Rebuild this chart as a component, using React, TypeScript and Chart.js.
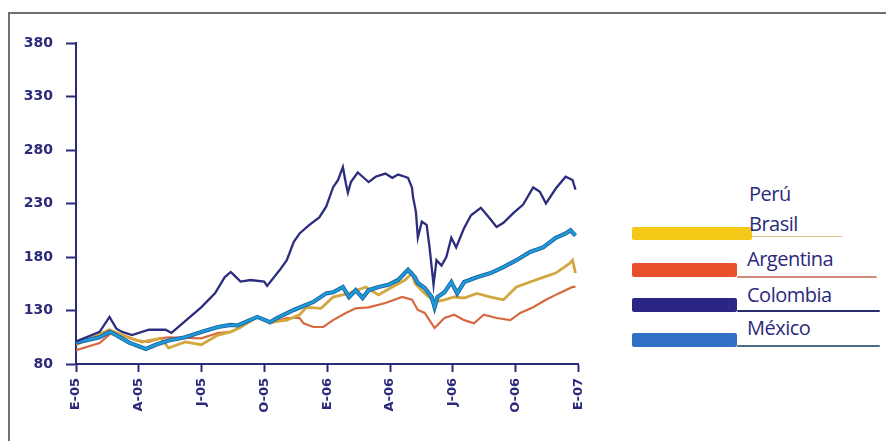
import React, { useEffect, useRef } from "react";
import { Chart, registerables } from "chart.js";

Chart.register(...registerables);

const quarterLabels = ["E-05", "A-05", "J-05", "O-05", "E-06", "A-06", "J-06", "O-06", "E-07"];
const yMin = 80;
const yMax = 380;
const yStep = 50;

// x values are months since January 2005
const colombiaMonths = [0, 1.13, 1.6, 1.93, 2.21, 2.68, 3.48, 4.28, 4.56, 5.98, 6.64, 7.1, 7.39, 7.5, 7.86, 8.33, 8.99, 9.13, 9.74, 10.07, 10.4, 10.68, 11.15, 11.62, 11.95, 12.28, 12.52, 12.75, 12.89, 12.99, 13.13, 13.46, 13.69, 13.98, 14.31, 14.78, 15.11, 15.39, 15.72, 15.86, 16.05, 16.1, 16.24, 16.33, 16.52, 16.75, 16.89, 17.08, 17.22, 17.46, 17.69, 17.93, 18.16, 18.54, 18.87, 19.34, 19.81, 20.09, 20.42, 20.89, 21.36, 21.84, 22.16, 22.45, 22.92, 23.39, 23.72, 23.86];
const colombiaValues = [101, 110, 124, 113, 110, 107, 112, 112, 109, 133, 146, 161, 166, 164, 157, 158.5, 157, 153, 168, 177, 194, 202, 210, 217, 227, 245, 252, 264, 249, 240, 250, 259, 255, 250, 255, 258, 254, 257, 255, 254, 245, 236, 222, 198, 213, 210, 189, 154, 177, 172, 180, 198, 189, 207, 219, 226, 215, 208, 212, 221, 229, 245, 241, 230, 244, 255, 252, 243];

const mexicoMonths = [0, 1.13, 1.6, 1.93, 2.54, 3.34, 3.81, 4.42, 5.22, 5.98, 6.78, 7.39, 7.72, 8.66, 9.27, 9.6, 10.4, 11.34, 11.95, 12.28, 12.75, 13.04, 13.36, 13.69, 13.98, 14.45, 14.92, 15.39, 15.86, 16.19, 16.33, 16.66, 16.99, 17.13, 17.27, 17.6, 17.93, 18.21, 18.54, 19.15, 19.81, 20.42, 21.04, 21.69, 22.31, 22.92, 23.39, 23.62, 23.86];
const mexicoValues = [100, 105, 110, 107, 100, 94, 98, 102, 105, 110, 114.6, 116.5, 116, 124, 119, 123, 130.5, 138, 146, 147, 152, 142.6, 149, 141.7, 149, 152, 154, 158.5, 168, 161, 155.7, 151, 142.6, 133, 142.6, 147, 156.6, 146, 156.6, 161, 165, 170.6, 177, 184.7, 189, 198, 202, 205, 200];

const brasilMonths = [0, 1.6, 2.21, 3.15, 4.05, 4.42, 5.22, 5.98, 6.78, 7.39, 7.86, 8.66, 9.27, 10.07, 10.68, 11.01, 11.71, 12.28, 13.04, 13.84, 14.45, 15.11, 15.72, 16.05, 16.19, 16.3, 16.66, 17.13, 17.6, 18.07, 18.54, 19.15, 19.81, 20.42, 21.04, 21.69, 22.31, 22.92, 23.58, 23.72, 23.86];
const brasilValues = [98, 112, 107, 100.6, 104, 95, 100.6, 98, 107, 110, 114.6, 124, 119, 121, 126, 133, 132, 142.6, 146, 152, 144.5, 152, 158.5, 165, 155.7, 153, 146, 138, 140, 142.6, 141.7, 146, 142.6, 140, 152, 156.6, 161, 165, 174, 177, 165];

const argentinaMonths = [0, 1.13, 1.74, 2.21, 2.87, 3.48, 4.05, 4.42, 5.98, 6.78, 7.39, 7.86, 8.66, 9.27, 10.07, 10.68, 10.87, 11.34, 11.81, 12.28, 12.89, 13.36, 13.98, 14.78, 15.58, 16.05, 16.33, 16.66, 17.13, 17.6, 18.07, 18.54, 19.01, 19.48, 20.09, 20.75, 21.22, 21.84, 22.45, 23.06, 23.72, 23.86];
const argentinaValues = [93, 99.6, 110, 107, 102, 100.6, 104, 105, 104, 109, 110, 114, 124, 118, 123, 123, 118, 114.6, 114.6, 121, 127.7, 132, 133, 137, 142.6, 140, 130.5, 127.7, 113.6, 123, 126, 121, 118, 126, 123, 121, 127.7, 133, 140, 146, 152, 152];

const navy = "#2b2a7a";

function pts(xs: number[], ys: number[]) {
  return xs.map((x, i) => ({ x, y: ys[i] }));
}

export default function App() {
  const ref = useRef<HTMLCanvasElement>(null);

  useEffect(() => {
    if (!ref.current) return;
    const chart = new Chart(ref.current, {
      type: "line",
      data: {
        datasets: [
          { label: "Colombia", data: pts(colombiaMonths, colombiaValues), borderColor: "#2c2d7e", borderWidth: 2.3, pointRadius: 0, tension: 0, order: 1 },
          { label: "México", data: pts(mexicoMonths, mexicoValues), borderColor: "#1c9bd8", borderWidth: 2.5, pointRadius: 0, tension: 0, order: 2 },
          { label: "México borde", data: pts(mexicoMonths, mexicoValues), borderColor: "#1f5e9c", borderWidth: 4.2, pointRadius: 0, tension: 0, order: 3 },
          { label: "Brasil", data: pts(brasilMonths, brasilValues), borderColor: "#d4a63e", borderWidth: 2.8, pointRadius: 0, tension: 0, order: 4 },
          { label: "Argentina", data: pts(argentinaMonths, argentinaValues), borderColor: "#d6693f", borderWidth: 2.2, pointRadius: 0, tension: 0, order: 5 },
        ],
      },
      options: {
        responsive: false,
        animation: false,
        devicePixelRatio: 1,
        layout: { padding: { top: 43, right: 14, left: 0, bottom: 0 } },
        plugins: { legend: { display: false }, tooltip: { enabled: false } },
        scales: {
          x: {
            type: "linear",
            min: 0,
            max: 24,
            afterFit: (s: any) => { s.height = 77; },
            afterBuildTicks: (s: any) => {
              s.ticks = quarterLabels.map((_, i) => ({ value: i * 3 }));
            },
            grid: { drawOnChartArea: false, drawTicks: true, tickLength: 8, tickColor: navy, tickWidth: 2 },
            border: { display: true, color: navy, width: 2 },
            ticks: {
              autoSkip: false,
              minRotation: 90,
              maxRotation: 90,
              padding: 6,
              color: navy,
              font: { family: "DejaVu Sans", size: 13, weight: "bold" },
              callback: (v: any) => quarterLabels[Math.round(Number(v) / 3)] ?? "",
            },
          },
          y: {
            min: yMin,
            max: yMax,
            afterFit: (s: any) => { s.width = 76; },
            grid: { drawOnChartArea: false, drawTicks: true, tickLength: 10, tickColor: navy, tickWidth: 2 },
            border: { display: true, color: navy, width: 2 },
            ticks: {
              stepSize: yStep,
              padding: 13,
              color: navy,
              font: { family: "DejaVu Sans", size: 14, weight: "bold" },
            },
          },
        },
      },
    });
    return () => chart.destroy();
  }, []);

  const legendText: React.CSSProperties = {
    position: "absolute",
    fontFamily: "'Open Sans', sans-serif",
    fontSize: 20,
    lineHeight: "20px",
    color: navy,
    whiteSpace: "nowrap",
    letterSpacing: -0.5,
  };
  const box = (left: number, top: number, width: number, height: number, bg: string): React.CSSProperties => ({
    position: "absolute", left, top, width, height, background: bg, borderRadius: 2,
  });

  return (
    <div style={{ position: "fixed", left: 0, top: 0, width: 886, height: 441, background: "#fff", overflow: "hidden" }}>
      <div style={{ position: "absolute", left: 8, top: 12, width: 920, height: 460, border: "2px solid #707070" }} />
      <canvas ref={ref} width={600} height={441} style={{ position: "absolute", left: 0, top: 0 }} />
      <div style={{ ...legendText, left: 749, top: 184 }}>Perú</div>
      <div style={box(632, 227, 120, 13, "#f6c817")} />
      <div style={{ ...legendText, left: 749, top: 214 }}>Brasil</div>
      <div style={box(752, 236, 90, 1, "#d8c08a")} />
      <div style={box(632, 263, 105, 14, "#e8502c")} />
      <div style={{ ...legendText, left: 747, top: 249 }}>Argentina</div>
      <div style={box(737, 276, 140, 2, "#d38b7e")} />
      <div style={box(632, 298, 105, 14, "#2b2585")} />
      <div style={{ ...legendText, left: 747, top: 285 }}>Colombia</div>
      <div style={box(737, 310, 143, 2, "#2b2a6a")} />
      <div style={box(632, 333, 105, 14, "#2f6fc4")} />
      <div style={{ ...legendText, left: 747, top: 318 }}>México</div>
      <div style={box(737, 345, 143, 2, "#4f6c88")} />
    </div>
  );
}
